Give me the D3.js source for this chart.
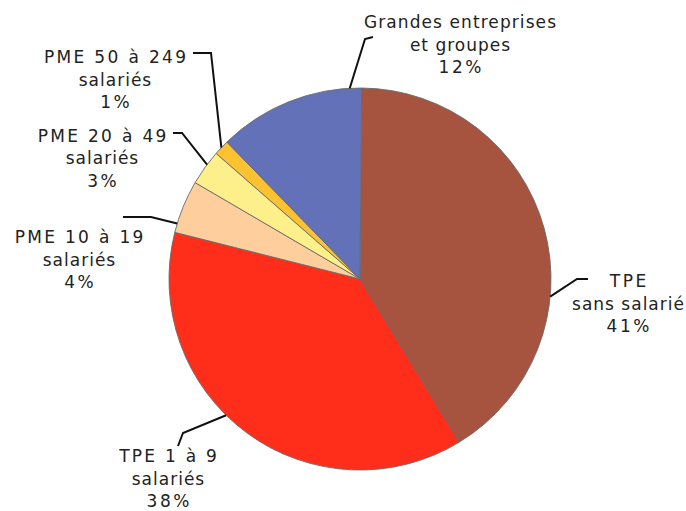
<!DOCTYPE html>
<html lang="fr">
<head>
<meta charset="utf-8">
<script src="https://cdn.jsdelivr.net/npm/d3@7"></script>
<style>
  html, body { margin: 0; padding: 0; background: #fff; }
  svg { display: block; }
  .lbl { font-family: "DejaVu Sans", sans-serif; font-size: 17px; fill: #222; }
</style>
</head>
<body>
<svg id="chart" width="686" height="511"></svg>
<script>
// Répartition par catégorie d'entreprise (en %)
const categories = [
  "TPE\nsans salarié",
  "TPE 1 à 9\nsalariés",
  "PME 10 à 19\nsalariés",
  "PME 20 à 49\nsalariés",
  "PME 50 à 249\nsalariés",
  "Grandes entreprises\net groupes"
];
const values = [41.1, 37.6, 4.49, 3.0, 1.3, 12.4];
const colors = ["#A65340", "#FF2E1A", "#FECE9C", "#FDEF8A", "#FDC232", "#6271B8"];

// Placement des étiquettes : position du départ du trait sur l'arc (fraction de la part),
// points de coude du trait, centre et ligne de base du texte.
const labelLayout = [
  { t: 0.64, path: [[577, 279], [588, 279]], x: 628, y: 287 },
  { t: 0.56, path: [[183, 433], [178, 446]], x: 168, y: 462 },
  { t: 0.17, path: [[151, 217], [123, 217]], x: 79,  y: 243 },
  { t: 0.60, path: [[182, 133], [173, 133]], x: 102, y: 141.5 },
  { t: 0.50, path: [[211, 53],  [193, 53]],  x: 115, y: 63 },
  { t: 0.92, path: [[365, 39],  [373, 37]],  x: 460, y: 28 }
];

const cx = 360, cy = 279, r = 191;
const svg = d3.select("#chart");
const g = svg.append("g").attr("transform", `translate(${cx},${cy})`);

const data = values.map((v, i) => ({ name: categories[i], value: v, color: colors[i], layout: labelLayout[i] }));
const startOffset = 0.5 * Math.PI / 180;
const pie = d3.pie().value(d => d.value).sort(null)
  .startAngle(startOffset).endAngle(2 * Math.PI + startOffset);
const arcs = pie(data);
const arc = d3.arc().innerRadius(0).outerRadius(r);

g.selectAll("path.slice")
  .data(arcs)
  .join("path")
  .attr("class", "slice")
  .attr("d", arc)
  .attr("fill", d => d.data.color)
  .attr("stroke", "#6a6a6a")
  .attr("stroke-width", 0.9)
  .attr("stroke-linejoin", "round");

const fmt = v => Math.round(v) + "%";

// Espacement des lettres plus large pour les capitales et les chiffres
const spacingFor = s => {
  const chars = s.replace(/\s/g, "");
  const strong = (chars.match(/[A-Z0-9%]/g) || []).length;
  return 1 + 1.5 * strong / chars.length;
};

arcs.forEach(a => {
  const L = a.data.layout;
  const ang = a.startAngle + L.t * (a.endAngle - a.startAngle);
  const p0 = [cx + r * Math.sin(ang), cy - r * Math.cos(ang)];
  const pts = [p0].concat(L.path);
  svg.append("path")
    .attr("d", d3.line()(pts))
    .attr("fill", "none")
    .attr("stroke", "#111")
    .attr("stroke-width", 2);

  const lines = a.data.name.split("\n").concat([fmt(a.data.value)]);
  lines.forEach((s, i) => {
    const ls = spacingFor(s);
    svg.append("text")
      .attr("class", "lbl")
      .attr("text-anchor", "middle")
      .attr("letter-spacing", ls)
      .attr("x", L.x + ls / 2)
      .attr("y", L.y + i * 22.5)
      .text(s);
  });
});
</script>
</body>
</html>
